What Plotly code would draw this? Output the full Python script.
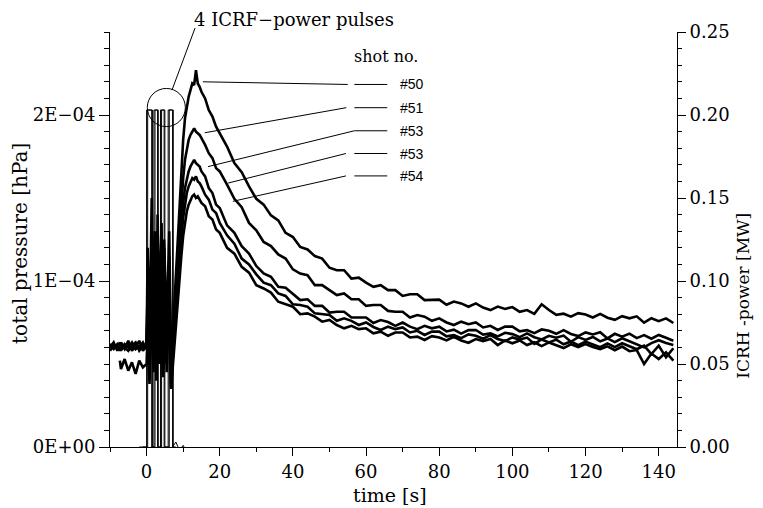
import numpy as np
import plotly.graph_objects as go

# =====================================
# DATA
# =====================================
# time base [s]
T_PRE = [-10, -9, -8, -7.3, -7, -6, -5, -4, -3, -2, -1, 0]
T_PULSE = [0.3, 0.8, 1.4, 1.9, 2.3, 2.7, 3.0, 3.5, 4.1, 4.5, 4.8, 5.5, 6.2, 6.7, 7.2]
T_RISE = [7.8, 8.5, 9, 9.5, 10, 10.5, 11, 11.5, 12, 12.5, 13, 13.5, 14, 14.5, 15, 16, 17, 18, 19, 20]
T_DECAY = list(range(22, 145, 2))
TIME = T_PRE + T_PULSE + T_RISE + T_DECAY

# total pressure, in units of 1E-04 hPa
P50 = [0.61, 0.59, 0.62, 0.60, 0.58, 0.62, 0.60, 0.63, 0.59, 0.61, 0.60, 0.62,
       1.20, 0.60, 1.50, 0.70, 1.30, 0.55, 1.40, 0.80, 1.35, 0.60, 1.25, 0.70, 1.30, 0.45, 0.70,
       0.95, 1.25, 1.48, 1.68, 1.85, 1.98, 2.06, 2.11, 2.15, 2.19, 2.18, 2.27, 2.19, 2.17, 2.14, 2.10, 2.03, 1.99, 1.93, 1.89,
       1.81, 1.71, 1.655, 1.57, 1.495, 1.46, 1.395, 1.365, 1.29, 1.265,
       1.205, 1.19, 1.15, 1.135, 1.08, 1.065, 1.065, 1.015, 1.02, 0.99,
       0.965, 0.975, 0.945, 0.945, 0.91, 0.92, 0.92, 0.885, 0.885, 0.888,
       0.857, 0.876, 0.865, 0.845, 0.865, 0.84, 0.825, 0.846, 0.832, 0.843,
       0.814, 0.825, 0.802, 0.86, 0.825, 0.796, 0.803, 0.785, 0.806, 0.798,
       0.78, 0.802, 0.779, 0.766, 0.788, 0.775, 0.787, 0.749, 0.776, 0.758,
       0.775, 0.747]
P51 = [0.60, 0.63, 0.58, 0.61, 0.62, 0.59, 0.64, 0.58, 0.61, 0.60, 0.63, 0.59,
       0.90, 0.45, 1.20, 0.50, 1.00, 0.40, 1.10, 0.60, 1.20, 0.50, 1.00, 0.55, 1.15, 0.40, 0.65,
       0.85, 1.10, 1.30, 1.48, 1.62, 1.73, 1.80, 1.85, 1.88, 1.90, 1.92, 1.90, 1.89, 1.88, 1.86, 1.82, 1.77, 1.74, 1.68, 1.66,
       1.58, 1.495, 1.445, 1.35, 1.305, 1.235, 1.21, 1.16, 1.135, 1.07,
       1.045, 1.035, 0.975, 0.975, 0.945, 0.915, 0.925, 0.89, 0.89, 0.85,
       0.855, 0.855, 0.82, 0.815, 0.815, 0.78, 0.795, 0.785, 0.76, 0.775,
       0.75, 0.735, 0.755, 0.74, 0.75, 0.72, 0.73, 0.705, 0.725, 0.725,
       0.697, 0.704, 0.686, 0.708, 0.70, 0.682, 0.704, 0.681, 0.668, 0.69,
       0.678, 0.691, 0.654, 0.682, 0.665, 0.683, 0.656, 0.674, 0.652, 0.675,
       0.658, 0.64]
P53A = [0.62, 0.60, 0.61, 0.58, 0.63, 0.60, 0.58, 0.61, 0.63, 0.58, 0.61, 0.60,
        1.00, 0.50, 0.90, 0.60, 1.20, 0.50, 0.90, 0.70, 1.10, 0.45, 1.20, 0.60, 1.00, 0.38, 0.60,
        0.80, 1.00, 1.18, 1.34, 1.47, 1.56, 1.62, 1.66, 1.69, 1.71, 1.73, 1.71, 1.70, 1.69, 1.66, 1.63, 1.56, 1.53, 1.46, 1.44,
        1.335, 1.29, 1.21, 1.165, 1.09, 1.045, 1.025, 0.965, 0.96, 0.92,
        0.885, 0.89, 0.85, 0.85, 0.81, 0.815, 0.815, 0.78, 0.78, 0.78,
        0.747, 0.765, 0.753, 0.73, 0.75, 0.725, 0.71, 0.73, 0.715, 0.725,
        0.696, 0.707, 0.683, 0.704, 0.705, 0.677, 0.684, 0.666, 0.688, 0.68,
        0.662, 0.684, 0.661, 0.648, 0.67, 0.658, 0.671, 0.634, 0.662, 0.645,
        0.663, 0.636, 0.654, 0.632, 0.655, 0.638, 0.621, 0.60, 0.626, 0.643,
        0.626, 0.615]
P53B = [0.58, 0.61, 0.60, 0.63, 0.59, 0.61, 0.62, 0.59, 0.60, 0.64, 0.58, 0.61,
        0.80, 0.40, 1.10, 0.55, 0.90, 0.45, 1.25, 0.60, 1.00, 0.50, 0.90, 0.50, 1.10, 0.36, 0.55,
        0.75, 0.95, 1.10, 1.25, 1.38, 1.47, 1.53, 1.57, 1.60, 1.62, 1.61, 1.63, 1.60, 1.59, 1.57, 1.52, 1.49, 1.43, 1.41, 1.35,
        1.275, 1.225, 1.135, 1.10, 1.04, 0.99, 0.975, 0.925, 0.91, 0.86,
        0.855, 0.845, 0.805, 0.80, 0.795, 0.76, 0.775, 0.76, 0.735, 0.75,
        0.723, 0.705, 0.725, 0.71, 0.72, 0.69, 0.70, 0.675, 0.695, 0.695,
        0.667, 0.674, 0.656, 0.678, 0.67, 0.652, 0.674, 0.651, 0.638, 0.66,
        0.647, 0.659, 0.621, 0.648, 0.63, 0.647, 0.619, 0.636, 0.613, 0.635,
        0.618, 0.601, 0.624, 0.602, 0.625, 0.607, 0.589, 0.611, 0.56, 0.61,
        0.54, 0.595]
P54 = [None, None, None, 0.52, 0.47, 0.53, 0.46, 0.51, 0.44, 0.52, 0.48, 0.50,
       0.70, 0.38, 1.00, 0.45, 1.10, 0.40, 0.95, 0.50, 1.05, 0.42, 1.00, 0.45, 0.90, 0.35, 0.50,
       0.70, 0.88, 1.02, 1.15, 1.27, 1.36, 1.42, 1.46, 1.49, 1.51, 1.52, 1.50, 1.51, 1.49, 1.47, 1.45, 1.39, 1.37, 1.31, 1.29,
       1.20, 1.165, 1.085, 1.05, 0.975, 0.955, 0.93, 0.875, 0.86, 0.845,
       0.80, 0.805, 0.785, 0.755, 0.765, 0.735, 0.715, 0.73, 0.71, 0.715,
       0.685, 0.695, 0.67, 0.69, 0.69, 0.66, 0.665, 0.645, 0.668, 0.66,
       0.642, 0.664, 0.641, 0.628, 0.65, 0.638, 0.651, 0.614, 0.642, 0.625,
       0.642, 0.614, 0.631, 0.608, 0.63, 0.613, 0.596, 0.619, 0.602, 0.62,
       0.602, 0.589, 0.606, 0.583, 0.605, 0.577, 0.584, 0.50, 0.563, 0.53,
       0.57, 0.52]

SHOTS = ["#50", "#51", "#53", "#53", "#54"]
PRESSURE = [P50, P51, P53A, P53B, P54]

# ICRH power [MW], 4 pulses (two overlapping records)
PT_A = [-2.0, 0.3, 0.3, 1.4, 1.4, 2.3, 2.3, 3.0, 3.0, 4.1, 4.1, 4.8, 4.8, 6.2, 6.2, 7.1, 7.1,
        8.0, 9.0, 10.0, 11.0, 12.0, 13.0, 14.0]
PW_A = [0.0, 0.0, 0.203, 0.203, 0.0, 0.0, 0.203, 0.203, 0.0, 0.0, 0.203, 0.203, 0.0, 0.0, 0.203, 0.203, 0.0,
        0.003, -0.002, 0.001, -0.003, -0.002, -0.004, -0.003]
PT_B = [-1.0, 0.0, 0.0, 1.6, 1.6, 2.0, 2.0, 3.2, 3.2, 3.8, 3.8, 5.0, 5.0, 5.9, 5.9, 7.3, 7.3, 8.0]
PW_B = [0.0, 0.0, 0.203, 0.203, 0.0, 0.0, 0.203, 0.203, 0.0, 0.0, 0.203, 0.203, 0.0, 0.0, 0.203, 0.203, 0.0, 0.0]

Y_TICKVALS = [0, 1e-4, 2e-4]
Y_TICKTEXT = ["0E+00", "1E\u221204", "2E\u221204"]

# leader lines: start on curve (t, p) -> end near label
LEAD_T0 = [15.4, 15.9, 16.8, 22.3, 23.6]
LEAD_P0 = [2.20, 1.893, 1.689, 1.59, 1.48]
LEAD_T1 = [55.0, 54.6, 56.8, 54.5, 54.5]
LABEL_P = [2.184, 2.044, 1.905, 1.768, 1.633]

SERIF = "DejaVu Serif"
SANS = "Liberation Sans"

# =====================================
# FIGURE
# =====================================
fig = go.Figure()
t = np.array(TIME, dtype=float)
for name, p in zip(SHOTS, PRESSURE):
    y = np.array([np.nan if v is None else v for v in p]) * 1e-4
    fig.add_trace(go.Scatter(x=t, y=y, mode="lines", name=name,
                             line=dict(color="black", width=2.6)))

for pt, pw in [(PT_A, PW_A), (PT_B, PW_B)]:
    fig.add_trace(go.Scatter(x=pt, y=pw, mode="lines", yaxis="y2",
                             line=dict(color="black", width=1)))

shapes = []
annotations = []
for i, lab in enumerate(SHOTS):
    shapes.append(dict(type="line", xref="x", yref="y",
                       x0=LEAD_T0[i], y0=LEAD_P0[i] * 1e-4, x1=LEAD_T1[i], y1=LABEL_P[i] * 1e-4,
                       line=dict(color="black", width=1)))
    shapes.append(dict(type="line", xref="x", yref="y",
                       x0=56.8, y0=LABEL_P[i] * 1e-4, x1=65.8, y1=LABEL_P[i] * 1e-4,
                       line=dict(color="black", width=1)))
    annotations.append(dict(text=lab, xref="x", yref="y", x=68.6, y=LABEL_P[i] * 1e-4,
                            xanchor="left", yanchor="middle", showarrow=False,
                            font=dict(family=SANS, size=14, color="black")))

# circle round the pulse tops + pointer to caption
shapes.append(dict(type="circle", xref="x", yref="y", x0=0.2, x1=10.6, y0=1.93e-4, y1=2.16e-4,
                   line=dict(color="black", width=1)))
shapes.append(dict(type="line", xref="paper", yref="paper", x0=0.1093, y0=0.860, x1=0.150, y1=1.0096,
                   line=dict(color="black", width=1)))

annotations += [
    dict(text="4 ICRF\u2212power pulses", xref="paper", yref="paper", x=0.144, y=1.029,
         xanchor="left", yanchor="middle", showarrow=False, font=dict(family=SERIF, size=18)),
    dict(text="shot no.", xref="paper", yref="paper", x=0.427, y=0.94,
         xanchor="left", yanchor="middle", showarrow=False, font=dict(family=SERIF, size=16)),
    dict(text="total pressure [hPa]", xref="paper", yref="paper", x=-0.160, y=0.49, textangle=-90,
         xanchor="center", yanchor="middle", showarrow=False, font=dict(family=SERIF, size=20)),
    dict(text="ICRH -power [MW]", xref="paper", yref="paper", x=1.116, y=0.364, textangle=-90,
         xanchor="center", yanchor="middle", showarrow=False, font=dict(family=SERIF, size=17)),
    dict(text="time [s]", xref="paper", yref="paper", x=0.494, y=-0.116,
         xanchor="center", yanchor="middle", showarrow=False, font=dict(family=SERIF, size=19)),
]

# the page body adds an 8 px margin, so the figure is drawn 8 px smaller
fig.update_layout(
    width=755, height=500,
    margin=dict(l=102, r=86, t=24, b=61),
    paper_bgcolor="white", plot_bgcolor="white",
    showlegend=False,
    font=dict(family=SERIF, size=18, color="black"),
    shapes=shapes, annotations=annotations,
    xaxis=dict(range=[-10, 145], tick0=0, dtick=20, ticks="outside", ticklen=8, tickwidth=1,
               tickcolor="black", showline=True, linecolor="black", linewidth=1,
               showgrid=False, zeroline=False,
               minor=dict(ticks="outside", tick0=0, dtick=10, ticklen=4, tickcolor="black")),
    yaxis=dict(range=[0, 2.5e-4], tickmode="array", tickvals=Y_TICKVALS, ticktext=Y_TICKTEXT,
               ticks="outside", ticklen=10, tickwidth=1, tickcolor="black",
               showline=True, linecolor="black", linewidth=1, showgrid=False, zeroline=False,
               minor=dict(ticks="outside", tickmode="linear", tick0=0, dtick=1e-5, ticklen=5,
                          tickcolor="black")),
    yaxis2=dict(range=[0, 0.25], overlaying="y", side="right", tick0=0, dtick=0.05,
                tickformat=".2f", ticks="outside", ticklen=8, tickwidth=1, tickcolor="black",
                showline=True, linecolor="black", linewidth=1, showgrid=False, zeroline=False,
                minor=dict(ticks="outside", tick0=0, dtick=0.01, ticklen=4, tickcolor="black")),
)

fig.write_html("out.html")
